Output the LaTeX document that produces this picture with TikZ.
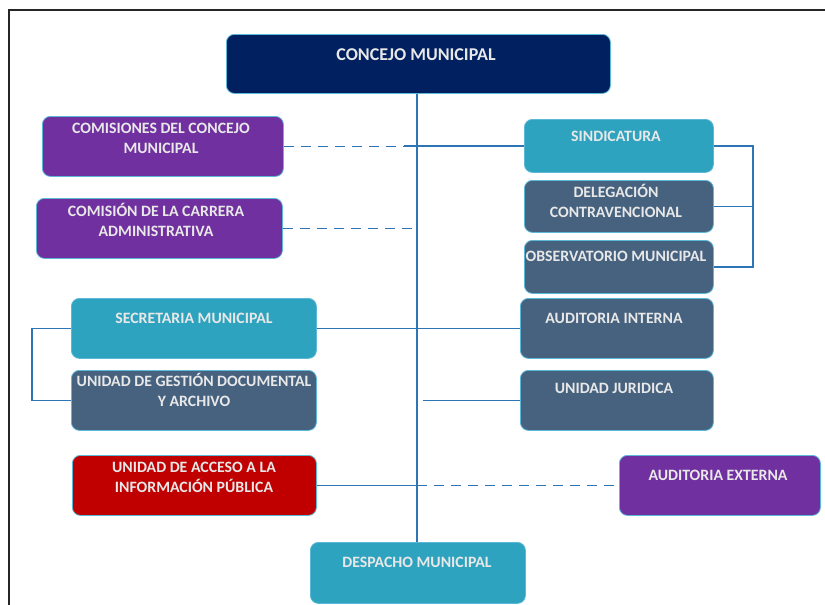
\documentclass[tikz,border=0pt]{standalone}
\usepackage{fontspec}
\setmainfont{Carlito}
\definecolor{navy}{HTML}{002060}
\definecolor{purp}{HTML}{7030A0}
\definecolor{teal}{HTML}{2EA3BF}
\definecolor{slate}{HTML}{46627F}
\definecolor{redc}{HTML}{C00000}
\definecolor{bordc}{HTML}{5BB8D6}
\definecolor{linec}{HTML}{2E75B6}
\definecolor{txtc}{HTML}{E8E8E8}
\tikzset{
  orgbox/.style={draw=bordc, line width=0.8pt, rounded corners=8pt, inner sep=0pt, anchor=north west},
  txt/.style={font=\bfseries\fontsize{15.8}{20}\selectfont, text=txtc, align=center, inner sep=0pt},
  bigtxt/.style={txt, font=\bfseries\fontsize{18}{22}\selectfont},
  conn/.style={draw=linec, line width=1.8pt},
  dconn/.style={conn, dash pattern=on 10pt off 7pt},
  frame/.style={draw=black!85, line width=2pt}
}
\begin{document}
\begin{tikzpicture}[x=1pt,y=-1pt]
\useasboundingbox (0,0) rectangle (825,605);
\draw[frame] (9,606) -- (9,10) -- (826,10);
% boxes
\node[orgbox, fill=navy, minimum width=384pt, minimum height=59pt] (concejo) at (226,34) {};
\node[orgbox, fill=purp, minimum width=241pt, minimum height=60pt] (comcon) at (42,116) {};
\node[orgbox, fill=purp, minimum width=246pt, minimum height=60pt] (comcar) at (36,198) {};
\node[orgbox, fill=teal, minimum width=189pt, minimum height=53pt] (sind) at (524,119) {};
\node[orgbox, fill=slate, minimum width=189pt, minimum height=52pt] (deleg) at (524,180) {};
\node[orgbox, fill=slate, minimum width=189pt, minimum height=53pt] (obs) at (524,240) {};
\node[orgbox, fill=teal, minimum width=245pt, minimum height=60pt] (secre) at (71,298) {};
\node[orgbox, fill=slate, minimum width=245pt, minimum height=60pt] (ugd) at (71,370) {};
\node[orgbox, fill=slate, minimum width=193pt, minimum height=60pt] (audint) at (520,298) {};
\node[orgbox, fill=slate, minimum width=193pt, minimum height=60pt] (ujur) at (520,370) {};
\node[orgbox, fill=redc, minimum width=244pt, minimum height=60pt] (uaip) at (72,455) {};
\node[orgbox, fill=purp, minimum width=201pt, minimum height=60pt] (audext) at (619,455) {};
\node[orgbox, fill=teal, minimum width=215pt, minimum height=61pt] (desp) at (310,542) {};
% texts
\node[bigtxt] (concejo-t) at (416,55) {CONCEJO MUNICIPAL};
\node[txt] (comcon-t) at (161,138) {COMISIONES DEL CONCEJO\\MUNICIPAL};
\node[txt] (comcar-t) at (156,220) {COMISIÓN DE LA CARRERA\\ADMINISTRATIVA};
\node[txt] (sind-t) at (616,136) {SINDICATURA};
\node[txt] (deleg-t) at (616,201) {DELEGACIÓN\\CONTRAVENCIONAL};
\node[txt] (obs-t) at (616,256) {OBSERVATORIO MUNICIPAL};
\node[txt] (secre-t) at (194,318) {SECRETARIA MUNICIPAL};
\node[txt] (ugd-t) at (194,390) {UNIDAD DE GESTIÓN DOCUMENTAL\\Y ARCHIVO};
\node[txt] (audint-t) at (614,318) {AUDITORIA INTERNA};
\node[txt] (ujur-t) at (614,388) {UNIDAD JURIDICA};
\node[txt] (uaip-t) at (194,477) {UNIDAD DE ACCESO A LA\\INFORMACIÓN PÚBLICA};
\node[txt] (audext-t) at (718,475) {AUDITORIA EXTERNA};
\node[txt] (desp-t) at (417,562) {DESPACHO MUNICIPAL};
% helper coordinates
\coordinate (trunk) at (417,0);
\coordinate (rb) at (753,0);
\coordinate (lb) at (32,0);
\coordinate (sindstart) at (404,0);
\coordinate (jurstart) at (423,0);
% connectors
\path[conn] (concejo.south -| trunk) -- (desp.north -| trunk);
\path[dconn] (comcon.east) -- (comcon.east -| trunk);
\path[dconn] (comcar.east) -- ([xshift=-3pt]comcar.east -| trunk);
\path[conn] (sind.west -| sindstart) -- (sind.west);
\path[conn] (sind.east) -- (sind.east -| rb) -- (obs.east -| rb) -- (obs.east);
\path[conn] (deleg.east) -- (deleg.east -| rb);
\path[conn] (secre.east) -- (audint.west);
\path[conn] (secre.west) -- (secre.west -| lb) -- (ugd.west -| lb) -- (ugd.west);
\path[conn] (ujur.west -| jurstart) -- (ujur.west);
\path[conn] (uaip.east) -- (uaip.east -| trunk);
\path[dconn] (uaip.east -| trunk) -- (audext.west);
\end{tikzpicture}
\end{document}
